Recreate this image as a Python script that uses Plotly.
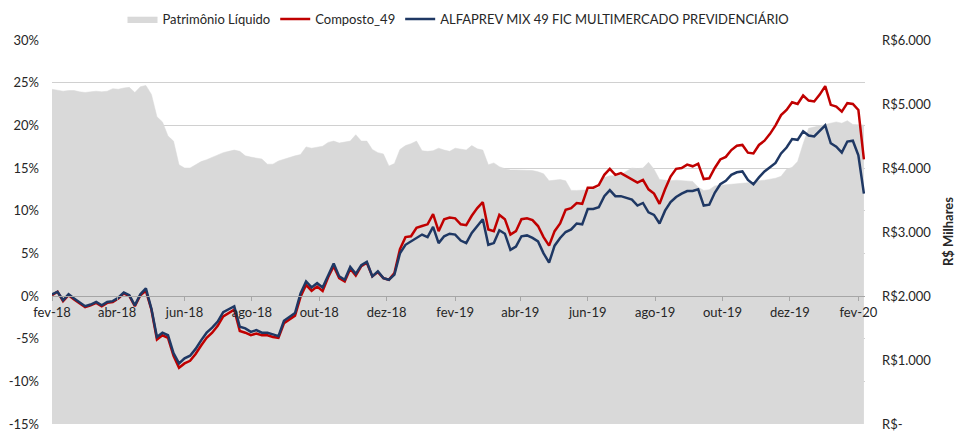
import plotly.graph_objects as go
import pandas as pd

# ---- data (one point every 5 days from 2018-02-01) ----
start_date = "2018-02-01"

composto_49 = [
    0.1, 0.5, -0.6, 0.1, -0.4, -0.9, -1.3, -1.1, -0.8, -1.2,
    -0.8, -0.7, -0.3, 0.3, 0.0, -1.2, 0.1, 0.6, -1.6, -5.1,
    -4.6, -4.9, -7.0, -8.4, -7.9, -7.6, -6.8, -5.8, -4.9, -4.3,
    -3.5, -2.4, -2.0, -1.6, -4.1, -4.3, -4.6, -4.4, -4.6, -4.6,
    -4.8, -4.9, -3.2, -2.8, -2.3, -0.1, 1.3, 0.6, 1.1, 0.6,
    2.2, 3.5, 2.1, 1.7, 3.2, 2.4, 3.5, 3.9, 2.3, 2.8,
    2.1, 1.9, 2.7, 5.5, 6.9, 7.0, 8.0, 8.2, 8.4, 9.6,
    7.6, 9.0, 9.2, 9.1, 8.4, 8.3, 9.4, 10.3, 11.0, 7.8,
    7.6, 9.5, 9.0, 7.2, 7.6, 9.0, 9.1, 8.9, 8.2, 6.9,
    5.9, 7.6, 8.5, 10.1, 10.3, 10.9, 10.8, 12.7, 12.7, 13.0,
    14.2, 14.9, 14.2, 14.4, 14.0, 13.7, 13.3, 13.6, 12.5, 12.0,
    10.8, 12.5, 14.0, 14.9, 15.0, 15.4, 15.2, 15.5, 13.7, 13.8,
    15.0, 16.0, 16.3, 17.1, 17.6, 17.7, 16.8, 16.7, 17.7, 18.2,
    19.0, 20.0, 21.2, 21.8, 22.7, 22.5, 23.5, 22.9, 22.8, 23.6,
    24.6, 22.4, 22.2, 21.6, 22.6, 22.5, 21.8, 16.0,
]

alfaprev_mix_49 = [
    0.2, 0.5, -0.5, 0.2, -0.3, -0.8, -1.2, -1.0, -0.7, -1.1,
    -0.7, -0.6, -0.2, 0.4, 0.1, -1.1, 0.2, 0.9, -1.5, -4.8,
    -4.3, -4.6, -6.7, -7.9, -7.3, -7.0, -6.2, -5.2, -4.3, -3.7,
    -3.0, -1.9, -1.5, -1.2, -3.6, -3.8, -4.2, -4.0, -4.3, -4.3,
    -4.5, -4.7, -2.9, -2.5, -2.0, 0.3, 1.7, 1.0, 1.5, 1.0,
    2.5, 3.8, 2.3, 1.9, 3.4, 2.6, 3.6, 4.0, 2.3, 2.9,
    2.1, 1.9, 2.5, 5.0, 6.0, 6.4, 6.9, 7.2, 6.9, 8.1,
    6.2, 7.0, 7.3, 7.2, 6.5, 6.2, 7.4, 8.2, 9.0, 6.0,
    6.2, 7.7, 7.3, 5.4, 5.8, 7.0, 7.1, 6.8, 6.4, 5.0,
    3.9, 5.9, 6.8, 7.5, 7.8, 8.5, 8.4, 10.2, 10.2, 10.4,
    11.7, 12.4, 11.7, 11.7, 11.5, 11.3, 10.6, 10.9, 9.8, 9.5,
    8.5, 10.0, 11.0, 11.6, 12.0, 12.3, 12.3, 12.5, 10.6, 10.7,
    12.1, 13.1, 13.5, 14.2, 14.5, 14.6, 13.6, 13.1, 13.9, 14.6,
    15.1, 15.6, 16.7, 17.4, 18.4, 18.3, 19.3, 18.8, 18.7, 19.3,
    20.0, 17.9, 17.5, 16.8, 18.1, 18.2, 16.5, 12.0,
]

patrimonio_liquido = [
    5230, 5210, 5200, 5210, 5210, 5190, 5180, 5190, 5200, 5190,
    5200, 5240, 5230, 5250, 5260, 5180, 5270, 5290, 5150, 4800,
    4720, 4500, 4420, 4050, 4000, 4000, 4050, 4100, 4130, 4170,
    4200, 4240, 4260, 4280, 4260, 4190, 4170, 4160, 4140, 4060,
    4060, 4110, 4140, 4160, 4190, 4210, 4330, 4310, 4320, 4340,
    4400, 4420, 4390, 4400, 4420, 4520, 4420, 4420, 4290, 4240,
    4220, 4030, 4070, 4290, 4350, 4380, 4420, 4270, 4260, 4270,
    4310, 4280, 4260, 4310, 4300, 4280, 4350, 4300, 4280, 4050,
    4080, 4020, 3990, 3970, 3970, 3970, 3970, 3960, 3940, 3910,
    3800, 3810, 3820, 3800, 3650, 3650, 3650, 3660, 3670, 3690,
    3850, 3880, 3880, 3890, 3950, 4000, 3990, 4000, 4090, 3980,
    3820, 3810, 3800, 3810, 3800, 3800, 3790, 3700, 3650, 3660,
    3720, 3730, 3740, 3740, 3750, 3760, 3770, 3770, 3800, 3810,
    3820, 3840, 3870, 3980, 4010, 4100, 4380, 4620, 4640, 4660,
    4690, 4700, 4720, 4700, 4740, 4680, 4670, 4670,
]

x_tick_dates = ["2018-02-01", "2018-04-01", "2018-06-01", "2018-08-01", "2018-10-01",
                "2018-12-01", "2019-02-01", "2019-04-01", "2019-06-01", "2019-08-01",
                "2019-10-01", "2019-12-01", "2020-02-01"]
x_tick_labels = ["fev-18", "abr-18", "jun-18", "ago-18", "out-18", "dez-18", "fev-19",
                 "abr-19", "jun-19", "ago-19", "out-19", "dez-19", "fev-20"]
x_end = "2020-02-07"

pct_ticks = [-15, -10, -5, 0, 5, 10, 15, 20, 25, 30]
pct_labels = ["-15%", "-10%", "-5%", "0%", "5%", "10%", "15%", "20%", "25%", "30%"]
pl_ticks = [0, 1000, 2000, 3000, 4000, 5000, 6000]
pl_labels = ["R$-", "R$1.000", "R$2.000", "R$3.000", "R$4.000", "R$5.000", "R$6.000"]

dates = pd.date_range(start_date, periods=len(patrimonio_liquido), freq="5D")

FONT = "Lato, 'Open Sans', sans-serif"
TXT = "#262626"

fig = go.Figure()
fig.add_trace(go.Scatter(
    x=dates, y=patrimonio_liquido, name="Patrimônio Líquido", yaxis="y",
    mode="lines", fill="tozeroy", fillcolor="#D9D9D9",
    line=dict(color="#D9D9D9", width=0.5),
))
fig.add_trace(go.Scatter(
    x=dates, y=composto_49, name="Composto_49", yaxis="y2",
    mode="lines", line=dict(color="#C00000", width=2.5),
))
fig.add_trace(go.Scatter(
    x=dates, y=alfaprev_mix_49, name="ALFAPREV MIX 49 FIC MULTIMERCADO PREVIDENCIÁRIO",
    yaxis="y2", mode="lines", line=dict(color="#1F3864", width=2.5),
))

pct_min, pct_max = pct_ticks[0], pct_ticks[-1]
zero_pos = (0 - pct_min) / (pct_max - pct_min)

fig.update_layout(
    width=957, height=435,
    margin=dict(l=52, r=92, t=40, b=11, autoexpand=False),
    paper_bgcolor="white", plot_bgcolor="white",
    font=dict(family=FONT, size=13, color=TXT),
    showlegend=True,
    legend=dict(orientation="h", x=0.5, xanchor="center",
                yref="container", y=1 - 19 / 435, yanchor="middle",
                font=dict(size=13, color=TXT), itemwidth=30, bgcolor="rgba(0,0,0,0)"),
    xaxis=dict(
        type="date", range=[start_date, x_end],
        tickvals=x_tick_dates, ticktext=x_tick_labels,
        anchor="free", position=zero_pos,
        showgrid=False, showline=True, linecolor="#A6A6A6", linewidth=1,
        ticks="outside", ticklen=4, tickcolor="#A6A6A6",
        tickfont=dict(size=13, color=TXT), layer="above traces",
    ),
    yaxis=dict(
        side="right", range=[pl_ticks[0], pl_ticks[-1]],
        tickvals=pl_ticks, ticktext=pl_labels,
        showgrid=False, zeroline=False, showline=False, ticks="",
        ticklabelstandoff=16, ticklabeloverflow="allow",
        tickfont=dict(size=13, color=TXT),
    ),
    yaxis2=dict(
        side="left", overlaying="y", range=[pct_min, pct_max],
        tickvals=pct_ticks, ticktext=pct_labels,
        showgrid=True, gridcolor="#D0D0D0", gridwidth=1,
        zeroline=False, showline=False, ticks="",
        ticklabelstandoff=12, ticklabeloverflow="allow",
        tickfont=dict(size=13, color=TXT),
    ),
    annotations=[dict(
        text="<b>R$ Milhares</b>", textangle=-90,
        xref="paper", yref="paper", x=(948 - 52) / 813, y=0.5,
        xanchor="center", yanchor="middle", showarrow=False,
        font=dict(size=13, color=TXT),
    )],
)

fig.write_html(
    "out.html",
    config={"displayModeBar": False},
    post_script="document.body.style.margin='0';document.body.style.overflow='hidden';",
)
